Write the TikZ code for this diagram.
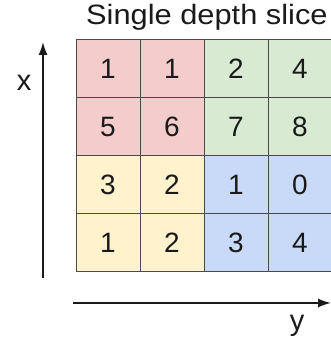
\documentclass[tikz,border=0pt]{standalone}
\usepackage{fontspec}
\setmainfont{Liberation Sans}
\newfontfamily\titlefont[FakeStretch=1.1]{Liberation Sans}
\usetikzlibrary{arrows.meta}
\definecolor{ink}{HTML}{1A1A1A}
\definecolor{rule}{HTML}{4A4A4A}
\definecolor{qred}{HTML}{F4CCCC}
\definecolor{qgreen}{HTML}{D9EAD3}
\definecolor{qyellow}{HTML}{FFF2CC}
\definecolor{qblue}{HTML}{C9DAF8}

\tikzset{
  cell/.style={draw=rule,line width=1pt,minimum width=64pt,minimum height=58pt,
    inner sep=0pt,outer sep=0pt,font=\fontsize{28}{32}\selectfont},
  axis/.style={->,ink,line width=1.6pt},
  axislabel/.style={anchor=base,font=\fontsize{29}{32}\selectfont}
}

\begin{document}
\begin{tikzpicture}[x=1pt,y=1pt,text=ink,>={Latex[length=13pt,width=9pt]}]
  \useasboundingbox (0,0) rectangle (331,338);

  \node[anchor=base west,inner sep=0pt,font=\titlefont\fontsize{28}{32}\selectfont]
    (title) at (86,313) {Single depth slice};

  % the 4x4 slice, one colour per 2x2 block
  \foreach \v [count=\i from 0] in {1,1,2,4,5,6,7,8,3,2,1,0,1,2,3,4}{
    \pgfmathtruncatemacro{\r}{\i/4}
    \pgfmathtruncatemacro{\c}{mod(\i,4)}
    \pgfmathtruncatemacro{\q}{2*int(\r/2)+int(\c/2)}
    \ifcase\q \def\qc{qred}\or \def\qc{qgreen}\or \def\qc{qyellow}\else \def\qc{qblue}\fi
    \node[cell,fill=\qc] (c-\r-\c) at (108+64*\c,269-58*\r) {\v};
  }

  \coordinate (xbot) at (43,60);
  \coordinate (xtop) at (43,296);
  \draw[axis] (xbot) -- (xtop);
  \node[axislabel] (xlab) at (24,247) {x};

  \coordinate (yleft) at (73,35);
  \coordinate (yright) at (331,35);
  \draw[axis] (yleft) -- (yright);
  \node[axislabel] (ylab) at (297,8) {y};
\end{tikzpicture}
\end{document}
